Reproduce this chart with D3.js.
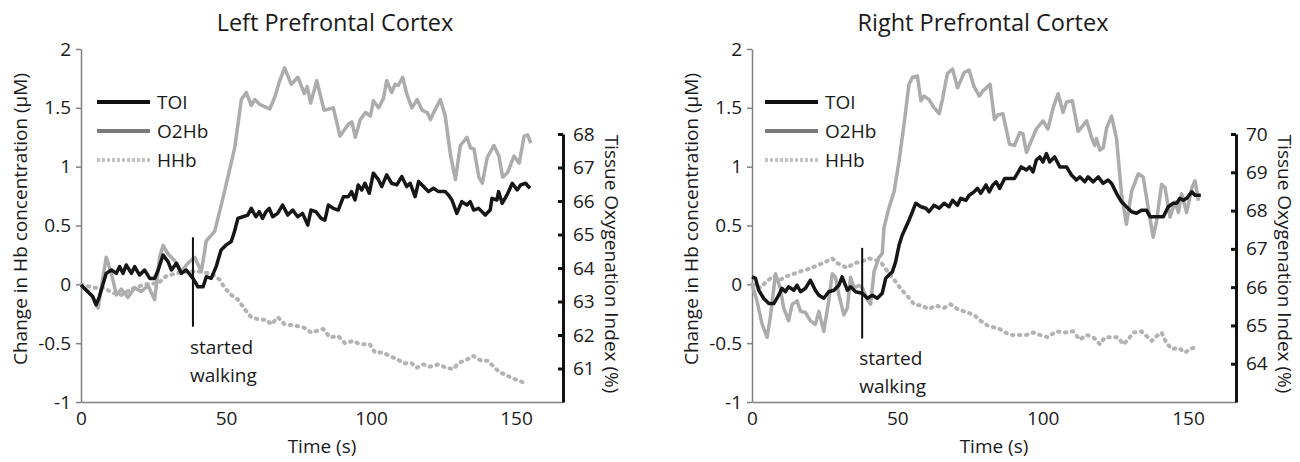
<!DOCTYPE html>
<html>
<head>
<meta charset="utf-8">
<script src="https://cdn.jsdelivr.net/npm/d3@7"></script>
<style>
  body { margin: 0; background: #fff; }
  text { font-family: "Open Sans", sans-serif; fill: #1a1a1a; }
</style>
</head>
<body>
<div id="chart"></div>
<script>
// ticks
const timeTicks = [0, 50, 100, 150];
const hbTicks = [-1, -0.5, 0, 0.5, 1, 1.5, 2];
const toiTicksLeft = [61, 62, 63, 64, 65, 66, 67, 68];
const toiTicksRight = [64, 65, 66, 67, 68, 69, 70];

// [time (s), value]
const leftTOI = [[0,63.49],[1.8,63.34],[4.1,63.14],[5.2,62.9],[6.3,63.14],[8.7,63.84],[10.5,63.94],[12.2,63.84],[13.3,64.04],[14.5,63.84],[15.6,64.09],[17.4,63.84],[18.5,64.04],[20.2,63.79],[21.9,63.94],[23.7,63.69],[25.4,63.69],[26.6,63.94],[28.3,64.39],[30,64.19],[31.2,63.94],[32.9,64.14],[34.6,63.84],[36.3,63.94],[38.6,63.69],[40.3,63.44],[42.1,63.44],[43.2,63.74],[44.9,63.69],[46.6,64.04],[48.3,64.54],[50.1,64.69],[51.8,64.79],[52.9,65.08],[54.1,65.48],[55.8,65.53],[57.5,65.58],[58.7,65.78],[60.3,65.53],[61.5,65.68],[62.6,65.48],[63.8,65.68],[64.9,65.78],[66.1,65.53],[67.8,65.63],[69.5,65.88],[71.3,65.58],[73,65.73],[74.7,65.53],[76.4,65.63],[78.2,65.28],[79.3,65.73],[81,65.68],[82.8,65.48],[84.1,65.43],[85.3,65.88],[87,65.78],[88.7,65.73],[90.5,66.13],[92.2,66.13],[93.3,66.28],[94.5,66.03],[95.6,66.48],[96.8,66.33],[97.9,66.53],[99.4,66.23],[100.8,66.83],[102.6,66.63],[103.7,66.43],[105.4,66.78],[107.1,66.53],[108.9,66.48],[110.6,66.73],[112.3,66.43],[113.5,66.53],[115.2,66.13],[116.4,66.58],[118.1,66.43],[119.8,66.28],[121.5,66.38],[123.3,66.28],[125.6,66.28],[126.7,66.18],[127.9,66.03],[129.6,65.63],[131.3,65.98],[133.1,65.88],[134.2,65.98],[135.4,65.73],[137.1,65.78],[139.4,65.58],[141.1,65.73],[141.7,66.08],[143.4,66.03],[144,66.28],[145.2,65.93],[146.9,66.18],[148.7,66.53],[150.4,66.33],[151.6,66.48],[153.3,66.53],[154.8,66.38]];
const leftO2Hb = [[0,0],[1.3,-0.04],[3.6,-0.09],[5.9,-0.2],[8.7,0.23],[10.5,0.09],[12.2,-0.09],[13.9,-0.04],[16.2,-0.11],[18.5,-0.03],[20.8,-0.06],[23.1,-0.01],[25.4,-0.13],[27.1,0.23],[28.3,0.33],[30,0.26],[32.3,0.2],[34.6,0.11],[36.9,0.18],[39.2,0.23],[41.5,0.11],[43.2,0.37],[46.1,0.45],[49.5,0.79],[53,1.16],[55.3,1.57],[57,1.63],[58.7,1.52],[59.9,1.57],[61.6,1.53],[65.1,1.49],[66.8,1.59],[68.5,1.73],[70.2,1.84],[72.5,1.7],[74.8,1.76],[77,1.62],[78,1.68],[79.2,1.54],[81.3,1.73],[83.8,1.48],[87,1.5],[89.3,1.26],[92.2,1.36],[93.4,1.38],[94.6,1.25],[96.3,1.4],[98.1,1.46],[99.8,1.43],[100.8,1.56],[102.6,1.5],[104.3,1.58],[105.4,1.73],[107.1,1.63],[108.3,1.7],[109.4,1.69],[110.9,1.76],[112.3,1.62],[114.1,1.5],[115.9,1.57],[117.6,1.48],[119.4,1.46],[120.5,1.4],[122.2,1.49],[123.9,1.57],[125.6,1.43],[127.4,1.1],[129.1,0.89],[130.8,1.18],[133.1,1.25],[134.3,1.16],[135.5,1.15],[137.2,0.91],[138.4,0.86],[140.1,1.08],[142.4,1.18],[144.1,1.09],[145.4,0.91],[147.1,0.95],[149.3,1.09],[151.1,1.03],[152.8,1.26],[154,1.27],[155.1,1.2]];
const leftHHb = [[0,0],[4.7,-0.03],[8.2,-0.03],[10.5,-0.07],[13.9,-0.09],[17.4,-0.04],[22,0],[26.6,0.01],[29.4,0.07],[32.3,0.09],[35.7,0.11],[40.3,0.11],[45,0.09],[47.8,0.04],[49.5,-0.03],[51.8,-0.09],[54.1,-0.13],[56.4,-0.21],[58.7,-0.28],[61.6,-0.3],[63.9,-0.3],[65.6,-0.34],[67.9,-0.28],[70.2,-0.34],[73.7,-0.35],[77.1,-0.37],[79.4,-0.41],[83.5,-0.38],[85.8,-0.45],[88.7,-0.44],[91,-0.5],[93.9,-0.48],[96.2,-0.51],[99.6,-0.51],[101.4,-0.58],[104.2,-0.58],[106.5,-0.61],[109.4,-0.64],[111.1,-0.67],[114,-0.67],[115.7,-0.71],[118,-0.68],[120.3,-0.7],[123.2,-0.68],[126.1,-0.71],[128.4,-0.72],[130.1,-0.67],[133,-0.64],[135.3,-0.61],[138.1,-0.65],[140.4,-0.65],[142.7,-0.71],[144.5,-0.75],[146.8,-0.77],[148.5,-0.8],[150.2,-0.81],[153.1,-0.84]];

const rightTOI = [[0,66.27],[1.2,66.23],[2.3,65.92],[4,65.71],[5.8,65.57],[7.5,65.57],[9.2,65.79],[10.3,65.97],[11.5,65.88],[12.6,66.01],[14.4,65.92],[15.5,66.05],[16.7,65.88],[18.4,65.97],[20.1,66.18],[21.8,65.92],[23,65.79],[24.7,65.71],[26.4,65.88],[28.2,65.92],[29.9,66.05],[31,66.27],[32.8,65.92],[33.9,66.01],[35.6,65.88],[37.9,65.84],[39.7,65.71],[41.4,65.79],[43.1,65.71],[44.8,65.84],[46,66.23],[47.1,66.32],[48.3,66.4],[49.4,66.66],[50.6,67.1],[51.7,67.36],[53.5,67.66],[55.2,67.97],[56.3,68.19],[58.1,68.1],[59.8,68.06],[60.9,67.97],[62.6,68.14],[64.4,68.06],[66.1,68.19],[67.8,68.1],[69,68.27],[70.7,68.14],[71.8,68.32],[73.6,68.27],[74.7,68.4],[76.4,68.49],[77.6,68.58],[78.7,68.45],[80.5,68.67],[81.6,68.49],[82.9,68.67],[84,68.75],[85.2,68.58],[86.9,68.84],[90.3,68.84],[92.6,69.14],[94.4,69.06],[95.5,69.14],[96.7,69.01],[97.8,69.32],[99,69.4],[100.1,69.27],[101.3,69.49],[102.4,69.27],[104.1,69.4],[105.9,69.14],[108.2,69.14],[109.9,68.93],[111.6,68.8],[112.8,68.88],[114.5,68.75],[115.6,68.88],[117.4,68.75],[119.1,68.88],[120.8,68.71],[122.5,68.8],[123.7,68.71],[125.4,68.45],[127.1,68.23],[128.8,68.1],[130.6,67.97],[132.3,67.93],[134,68.01],[135.7,68.01],[136.9,67.84],[141.5,67.84],[143.2,68.1],[144.9,68.19],[146.1,68.19],[147.2,68.32],[148.4,68.27],[149.5,68.32],[151.3,68.49],[152.4,68.4],[154.4,68.4]];
const rightO2Hb = [[0,0],[1.7,-0.14],[3.5,-0.34],[5.2,-0.45],[6.3,-0.28],[8.1,0.09],[9.8,-0.04],[10.9,-0.2],[12.6,-0.31],[13.8,-0.17],[15.5,-0.14],[16.7,-0.23],[18.4,-0.24],[20.1,-0.31],[21.8,-0.34],[23,-0.23],[24.7,-0.4],[26.4,-0.14],[27.6,0.09],[28.7,0.06],[29.9,-0.09],[31.6,-0.26],[32.8,-0.2],[33.9,0.06],[35.1,-0.03],[36.8,-0.01],[38,-0.03],[39.7,-0.13],[40.8,-0.17],[42,0.11],[43.7,0.23],[44.8,0.26],[45.4,0.48],[47.1,0.65],[48.9,0.79],[50.6,1.05],[52.3,1.36],[54,1.7],[55.2,1.76],[56.9,1.77],[58.1,1.56],[59.2,1.6],[60.9,1.57],[62.7,1.5],[64.4,1.45],[65.5,1.57],[67.2,1.79],[69,1.83],[70.7,1.67],[73,1.8],[74.7,1.82],[76.4,1.68],[78.2,1.6],[79.3,1.64],[81,1.68],[81.9,1.7],[83.4,1.4],[84.6,1.44],[86.3,1.45],[88.6,1.19],[90.3,1.18],[92.1,1.29],[93.2,1.28],[94.4,1.12],[96.1,1.22],[97.8,1.32],[100.1,1.39],[101.8,1.32],[103.6,1.5],[105.3,1.62],[107,1.46],[108.2,1.55],[110.2,1.56],[112.2,1.3],[113.9,1.35],[115.1,1.39],[116.8,1.25],[117.9,1.18],[118.5,1.24],[119.7,1.14],[120.8,1.16],[122,1.33],[123.7,1.43],[125.4,1.24],[127.1,0.77],[128.8,0.51],[130.6,0.79],[132.9,0.94],[134.6,0.91],[136.3,0.65],[138,0.4],[139.2,0.54],[140.9,0.85],[142.1,0.82],[143.8,0.57],[145.5,0.7],[146.7,0.61],[147.8,0.77],[149.5,0.61],[151.3,0.82],[152.4,0.88],[153.6,0.71]];
const rightHHb = [[0,0],[2.9,-0.03],[5.2,0.03],[7.5,0.07],[9.8,0.04],[12.1,0.07],[14.4,0.09],[16.7,0.11],[19.5,0.13],[22.4,0.16],[25.3,0.19],[27.6,0.22],[29.3,0.18],[32.8,0.14],[35.1,0.18],[37.4,0.19],[40.2,0.22],[42,0.21],[44.3,0.19],[46.6,0.11],[48.9,0.04],[51.2,-0.04],[53.5,-0.1],[55.8,-0.17],[58.1,-0.18],[60.9,-0.21],[63.2,-0.18],[66.1,-0.2],[68.4,-0.17],[70.7,-0.21],[74.1,-0.24],[76.4,-0.26],[78.7,-0.31],[81,-0.35],[85.2,-0.38],[88.6,-0.43],[92.1,-0.43],[94.4,-0.43],[96.7,-0.41],[99,-0.43],[101.8,-0.45],[104.7,-0.4],[107.6,-0.41],[110.5,-0.4],[112.8,-0.47],[115.1,-0.43],[117.4,-0.45],[119.7,-0.51],[121.4,-0.45],[123.7,-0.45],[126,-0.45],[127.7,-0.51],[129.4,-0.47],[131.1,-0.41],[134,-0.4],[135.7,-0.44],[137.5,-0.48],[139.2,-0.44],[140.9,-0.41],[142.6,-0.5],[144.4,-0.55],[146.7,-0.54],[149,-0.58],[150.7,-0.55],[151.8,-0.54]];

// walking onset marker: [time, top, bottom] in Hb units
const walkLeft = [38.6, 0.40, -0.36];
const walkRight = [37.9, 0.31, -0.46];

const seriesNames = ["TOI", "O2Hb", "HHb"];

const svg = d3.select("#chart").append("svg")
    .attr("width", 1300)
    .attr("height", 462);

function drawPanel(p) {
    const x = d3.scaleLinear().domain([0, p.xMax]).range([p.x0, p.x1]);
    const y = d3.scaleLinear().domain([-1, 2]).range([402, 49]);
    const yT = d3.scaleLinear().domain(p.toiDomain).range([402, 134]);
    const g = svg.append("g");

    // left axis
    const ax = g.append("g").attr("transform", `translate(${p.x0},0)`)
        .call(d3.axisLeft(y).tickValues(hbTicks).tickSize(5).tickPadding(5).tickSizeOuter(0).tickFormat(d => String(d)));
    ax.selectAll("path,line").attr("stroke", "#808080").attr("stroke-width", 1.5);
    ax.selectAll("text").style("font-size", "19px").attr("fill", "#1a1a1a");

    // bottom axis
    const bx = g.append("g").attr("transform", "translate(0,402)")
        .call(d3.axisBottom(x).tickValues(timeTicks).tickSize(0).tickPadding(10));
    bx.select("path").attr("stroke", "#808080").attr("stroke-width", 1.5);
    bx.selectAll("text").style("font-size", "19px").attr("fill", "#1a1a1a");

    // right axis (TOI)
    const rx = g.append("g").attr("transform", `translate(${p.x1},0)`)
        .call(d3.axisRight(yT).tickValues(p.toiTicks).tickSize(-5).tickPadding(10).tickSizeOuter(0).tickFormat(d3.format("d")));
    rx.select("path").attr("stroke", "#111").attr("stroke-width", 3);
    rx.selectAll("line").attr("stroke", "#111").attr("stroke-width", 3);
    rx.selectAll("text").style("font-size", "19px").attr("fill", "#1a1a1a");

    const lineHb = d3.line().x(d => x(d[0])).y(d => y(d[1]));
    const lineT = d3.line().x(d => x(d[0])).y(d => yT(d[1]));

    g.append("path").attr("d", lineHb(p.hhb))
        .attr("fill", "none").attr("stroke", "#b3b3b3").attr("stroke-width", 4)
        .attr("stroke-dasharray", "1.5,5.5").attr("stroke-linecap", "round");
    g.append("path").attr("d", lineHb(p.o2hb))
        .attr("fill", "none").attr("stroke", "#acacac").attr("stroke-width", 3.5)
        .attr("stroke-linejoin", "round");
    g.append("path").attr("d", lineT(p.toi))
        .attr("fill", "none").attr("stroke", "#161616").attr("stroke-width", 3.5)
        .attr("stroke-linejoin", "round");

    // walking marker
    g.append("line")
        .attr("x1", x(p.walk[0])).attr("x2", x(p.walk[0]))
        .attr("y1", y(p.walk[1])).attr("y2", y(p.walk[2]))
        .attr("stroke", "#111").attr("stroke-width", 2);
    g.append("text").attr("x", x(p.walk[0]) - 3).attr("y", y(p.walk[2]) + 27)
        .style("font-size", "19px").text("started");
    g.append("text").attr("x", x(p.walk[0]) - 3).attr("y", y(p.walk[2]) + 55)
        .style("font-size", "19px").text("walking");

    // titles
    g.append("text").attr("x", p.titleX).attr("y", 31)
        .attr("text-anchor", "middle").style("font-size", "23.5px").text(p.title);
    g.append("text").attr("transform", `translate(${p.x0 - 61},219) rotate(-90)`)
        .attr("text-anchor", "middle").attr("dy", "0.35em").style("font-size", "19px")
        .text("Change in Hb concentration (μM)");
    g.append("text").attr("transform", `translate(${p.x1 + 49},264) rotate(90)`)
        .attr("text-anchor", "middle").attr("dy", "0.35em").style("font-size", "19px")
        .text("Tissue Oxygenation Index (%)");
    g.append("text").attr("x", (p.x0 + p.x1) / 2).attr("y", 453)
        .attr("text-anchor", "middle").style("font-size", "19px").text("Time (s)");

    // legend
    const styles = [
        { stroke: "#111", dash: null, w: 4 },
        { stroke: "#7a7a7a", dash: null, w: 4 },
        { stroke: "#c4c4c4", dash: "3,2", w: 4 }
    ];
    const lg = g.append("g").attr("transform", `translate(${p.legendX},102)`);
    const item = lg.selectAll("g").data(seriesNames).enter().append("g")
        .attr("transform", (d, i) => `translate(0,${i * 29})`);
    item.append("line").attr("x1", 0).attr("x2", 53)
        .attr("stroke", (d, i) => styles[i].stroke)
        .attr("stroke-width", (d, i) => styles[i].w)
        .attr("stroke-dasharray", (d, i) => styles[i].dash);
    item.append("text").attr("x", 60).attr("dy", "0.35em")
        .style("font-size", "19px").text(d => d);
}

drawPanel({
    title: "Left Prefrontal Cortex", titleX: 335,
    x0: 81, x1: 563, xMax: 166.2,
    toiDomain: [60, 68], toiTicks: toiTicksLeft,
    toi: leftTOI, o2hb: leftO2Hb, hhb: leftHHb,
    walk: walkLeft, legendX: 97
});
drawPanel({
    title: "Right Prefrontal Cortex", titleX: 983,
    x0: 752, x1: 1236, xMax: 166.5,
    toiDomain: [63, 70], toiTicks: toiTicksRight,
    toi: rightTOI, o2hb: rightO2Hb, hhb: rightHHb,
    walk: walkRight, legendX: 765
});
</script>
</body>
</html>
